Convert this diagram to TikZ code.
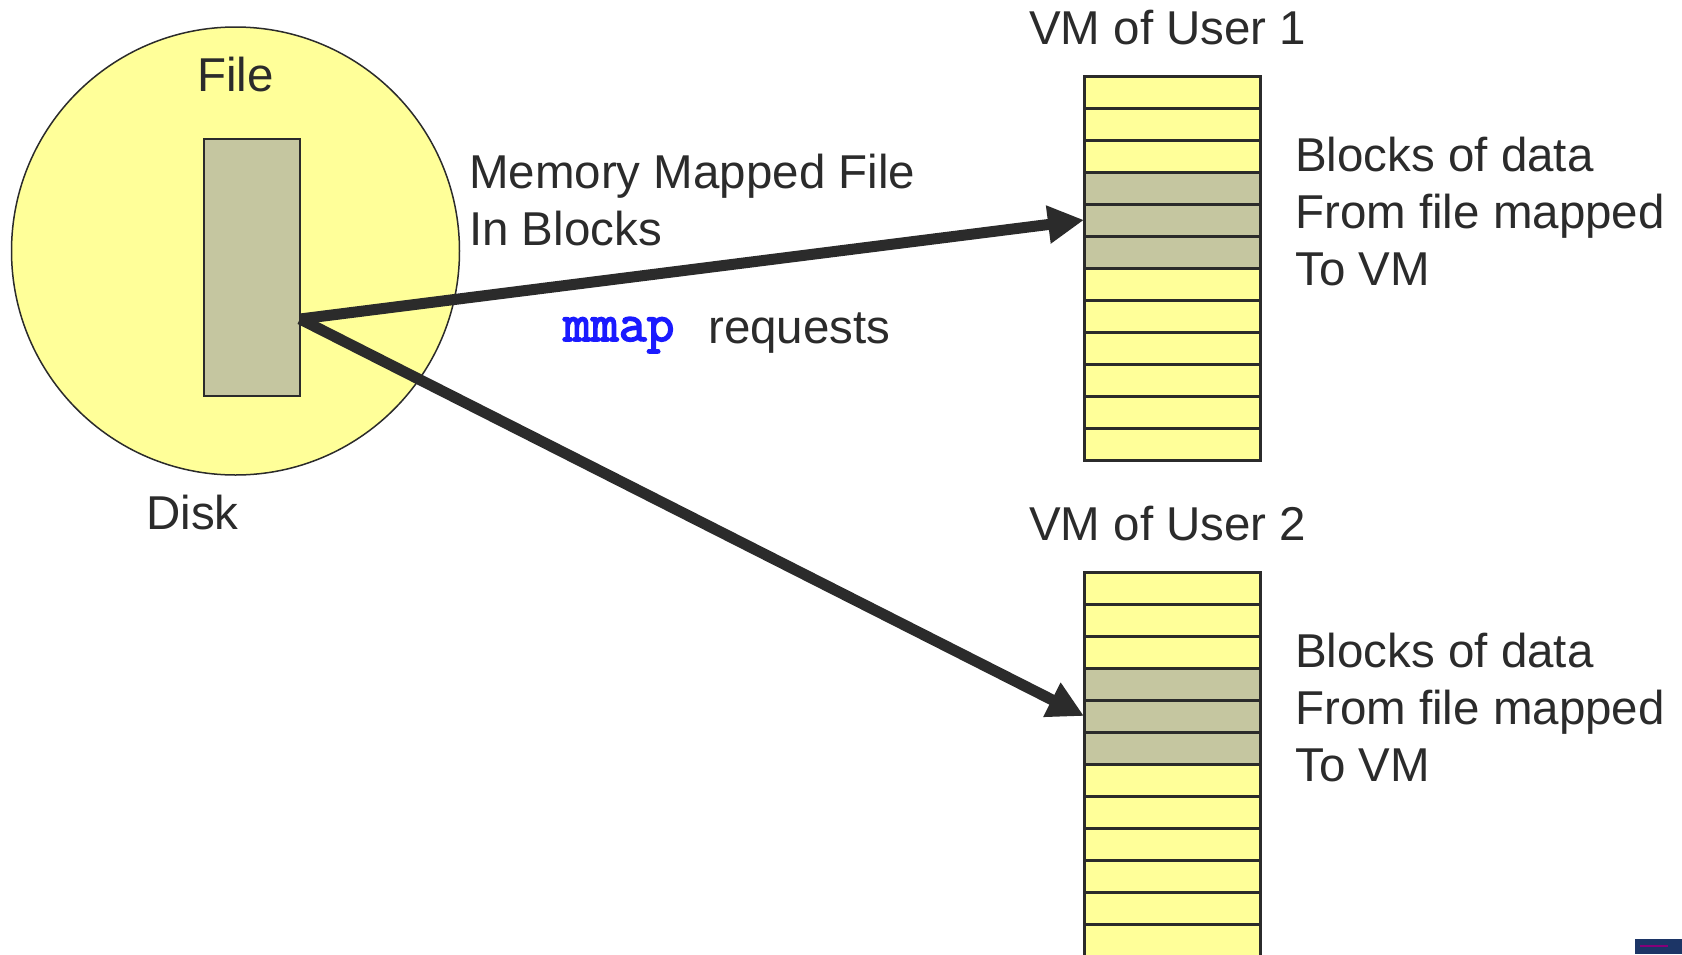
\documentclass[tikz,border=0pt]{standalone}
\usepackage{fontspec}
\setmainfont{Liberation Sans}
\newfontfamily\mmapfont[FakeBold=3]{Latin Modern Mono}
\usetikzlibrary{arrows.meta}
\definecolor{diskY}{HTML}{FFFF99}
\definecolor{blockG}{HTML}{C5C6A0}
\definecolor{ink}{HTML}{2B2B2B}
\definecolor{mmapblue}{HTML}{1A1AFF}
\definecolor{iconblue}{HTML}{1C3566}
\tikzset{
  lbl/.style={inner sep=0pt, text=ink, font=\fontsize{47.5}{57}\selectfont, anchor=base west},
  blk/.style={draw=ink, line width=3pt, minimum width=176pt, minimum height=32pt, inner sep=0pt, outer sep=0pt},
  bigarrow/.style={draw=ink, line width=11pt, -{Triangle[length=36pt,width=36pt]}},
}
\begin{document}
\begin{tikzpicture}[x=1pt,y=-1pt]
\useasboundingbox (0,0) rectangle (1682,954);
\clip (0,0) rectangle (1682,954);
\fill[white] (0,0) rectangle (1682,954);
% disk
\node[circle, draw=ink, line width=1.5pt, fill=diskY, minimum size=448pt, inner sep=0pt] (disk) at (235.5,251) {};
\node[draw=ink, line width=2pt, fill=blockG, minimum width=96pt, minimum height=257pt, inner sep=0pt] (filerect) at (252,267.5) {};
\node[lbl, anchor=base] (filelbl) at (235.5,91) {File};
\node[lbl] (disklbl) at (146,529) {Disk};
% VM bars
\foreach \i/\c in {1/diskY,2/diskY,3/diskY,4/blockG,5/blockG,6/blockG,7/diskY,8/diskY,9/diskY,10/diskY,11/diskY,12/diskY} {
  \node[blk, fill=\c] (u1-\i) at (1172,{60+32*\i}) {};
  \node[blk, fill=\c] (u2-\i) at (1172,{556+32*\i}) {};
}
\node[lbl] (vm1) at (1029,44) {VM of User 1};
\node[lbl] (vm2) at (1029,540) {VM of User 2};
\node[lbl] (b1a) at (1295,171) {Blocks of data};
\node[lbl] (b1b) at (1295,228) {From file mapped};
\node[lbl] (b1c) at (1295,285) {To VM};
\node[lbl] (b2a) at (1295,667) {Blocks of data};
\node[lbl] (b2b) at (1295,724) {From file mapped};
\node[lbl] (b2c) at (1295,781) {To VM};
% labels
\node[lbl] (mmf1) at (469,188) {Memory Mapped File};
\node[lbl] (mmf2) at (469,245) {In Blocks};
\node[lbl, text=mmapblue, font=\fontsize{54}{60}\mmapfont\selectfont] (mmap) at (563,341) {mmap};
\node[lbl] (req) at (708,343) {requests};
% arrows
\coordinate (src) at (300,319);
\draw[bigarrow] (src) -- (u1-5.west);
\draw[bigarrow] (src) -- (u2-5.west);
% small corner mark
\fill[iconblue] (1635,939) rectangle (1682,954);
\draw[purple!70!blue, line width=1.5pt] (1640,946) -- (1668,946);
\end{tikzpicture}
\end{document}
